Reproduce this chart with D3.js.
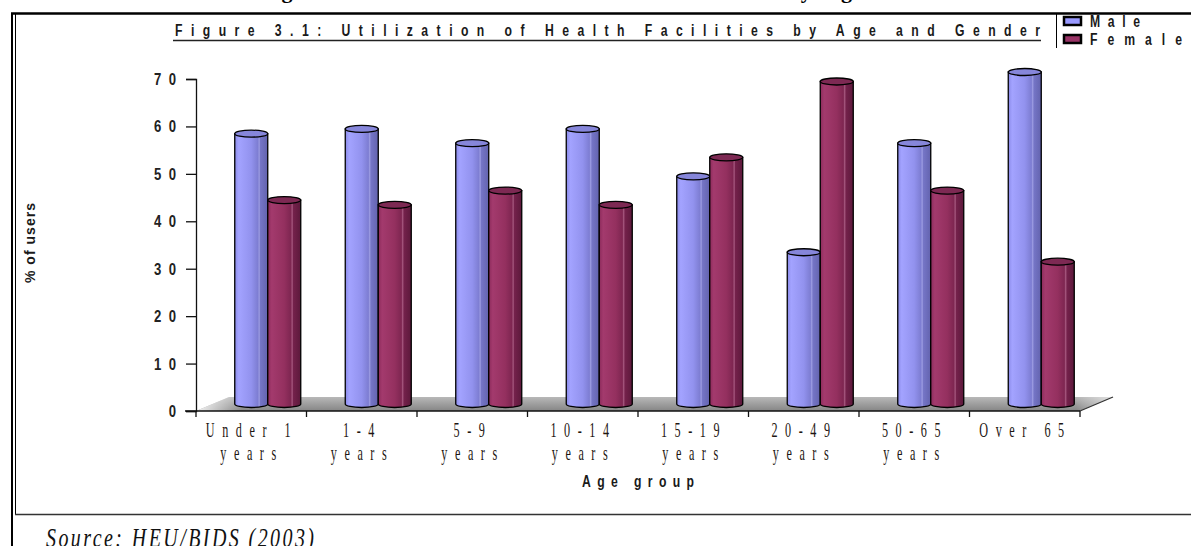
<!DOCTYPE html>
<html>
<head>
<meta charset="utf-8">
<script src="https://cdn.jsdelivr.net/npm/d3@7"></script>
<style>
  html, body { margin: 0; padding: 0; background: #fff; }
  svg { display: block; }
</style>
</head>
<body>
<svg id="chart" width="1191" height="546"></svg>
<script>
// ---- data ----
const categories = ["Under 1\nyears", "1-4\nyears", "5-9\nyears", "10-14\nyears",
                    "15-19\nyears", "20-49\nyears", "50-65\nyears", "Over 65"];
const series = ["Male", "Female"];
const maleValues = [57, 58, 55, 58, 48, 32, 55, 70];
const femaleValues = [43, 42, 45, 42, 52, 68, 45, 30];
const yTicks = [0, 10, 20, 30, 40, 50, 60, 70];
const titleText = "Figure 3.1: Utilization of Health Facilities by Age and Gender";
const xAxisTitle = "Age group";
const yAxisTitle = "% of users";
const sourceText = "Source: HEU/BIDS (2003)";

const svg = d3.select("#chart");
const defs = svg.append("defs");

// ---- layout ----
const plotLeft = 196, plotRight = 1080, yZero = 411, yTop = 79;
const depthDx = 33, depthDy = -14;          // oblique depth of the floor
const barW = 33, capRy = 3.5;

const x = d3.scaleBand().domain(categories).range([plotLeft, plotRight]);
const y = d3.scaleLinear().domain([0, 70]).range([yZero, yTop]);
const bw = x.bandwidth();
const sub = d3.scaleBand().domain(series)
  .range([bw / 2 + depthDx / 2 - barW, bw / 2 + depthDx / 2 + barW]);

const sans = "'Liberation Sans', Arial, sans-serif";
const serif = "'Liberation Serif', 'Times New Roman', serif";

// condensed / stretched text helper
function stext(parent, x0, y0, str, o) {
  const g = parent.append("g")
    .attr("transform", `translate(${x0},${y0}) scale(${o.sx || 1},${o.sy || 1})`);
  const t = g.append("text")
    .attr("font-family", o.family || sans)
    .attr("font-size", o.size)
    .attr("font-weight", o.weight || "normal")
    .attr("font-style", o.style || "normal")
    .attr("fill", o.fill || "#111")
    .attr("text-anchor", o.anchor || "start")
    .text(str);
  if (o.ls) {
    t.attr("letter-spacing", o.ls);
    if (o.anchor === "middle") t.attr("dx", o.ls / 2);
    if (o.anchor === "end") t.attr("dx", o.ls);
  }
  if (o.len) t.attr("textLength", o.len / (o.sx || 1)).attr("lengthAdjust", "spacing");
  return t;
}

// ---- page frame ----
const frame = svg.append("g").attr("stroke", "#000").attr("fill", "none");
frame.append("line").attr("x1", 11).attr("x2", 1191).attr("y1", 13.5).attr("y2", 13.5).attr("stroke-width", 2.5);
frame.append("line").attr("x1", 12).attr("x2", 12).attr("y1", 13).attr("y2", 546).attr("stroke-width", 2);
frame.append("line").attr("x1", 15.5).attr("x2", 15.5).attr("y1", 13).attr("y2", 515).attr("stroke-width", 1);
frame.append("line").attr("x1", 15).attr("x2", 1191).attr("y1", 514.5).attr("y2", 514.5).attr("stroke-width", 1.6).attr("stroke", "#333");

// heading of the document page above, mostly cut by the top edge
stext(svg, 256, -2, titleText, { family: serif, size: 22, weight: "bold", len: 759, fill: "#000" });

// ---- chart title (underlined) ----
stext(svg, 175, 36, titleText, { size: 16.5, weight: "bold", sx: 0.74, len: 865, fill: "#1a1a1a" });
svg.append("line").attr("x1", 173).attr("x2", 1041).attr("y1", 40.5).attr("y2", 40.5)
  .attr("stroke", "#222").attr("stroke-width", 1.5);

// ---- legend ----
const legend = svg.append("g");
legend.append("line").attr("x1", 1056.5).attr("x2", 1056.5).attr("y1", 13).attr("y2", 48)
  .attr("stroke", "#000").attr("stroke-width", 1);
const legendColors = { Male: "#9999ff", Female: "#993366" };
const legendRows = [{ name: "Male", cy: 21, len: 50 }, { name: "Female", cy: 39, len: 92 }];
legendRows.forEach(r => {
  legend.append("rect").attr("x", 1064).attr("y", r.cy - 4).attr("width", 17).attr("height", 8)
    .attr("fill", legendColors[r.name]).attr("stroke", "#000").attr("stroke-width", 2.5);
  stext(legend, 1090, r.cy + 5.5, r.name, { size: 16.5, weight: "bold", sx: 0.74, len: r.len, fill: "#1a1a1a" });
});

// ---- floor ----
const floorGrad = defs.append("linearGradient").attr("id", "floorGrad")
  .attr("x1", 0).attr("y1", 1).attr("x2", 0).attr("y2", 0);
floorGrad.append("stop").attr("offset", 0).attr("stop-color", "#858585");
floorGrad.append("stop").attr("offset", 1).attr("stop-color", "#b8b8b8");
const floorFade = defs.append("linearGradient").attr("id", "floorFade")
  .attr("x1", 0).attr("y1", 0).attr("x2", 1).attr("y2", 0);
floorFade.append("stop").attr("offset", 0).attr("stop-color", "#fff").attr("stop-opacity", 0.9);
floorFade.append("stop").attr("offset", 0.05).attr("stop-color", "#fff").attr("stop-opacity", 0);
floorFade.append("stop").attr("offset", 0.96).attr("stop-color", "#fff").attr("stop-opacity", 0);
floorFade.append("stop").attr("offset", 1).attr("stop-color", "#fff").attr("stop-opacity", 0.6);

const floorPts = [[plotLeft, yZero], [plotRight, yZero],
                  [plotRight + depthDx, yZero + depthDy], [plotLeft + depthDx, yZero + depthDy]];
const floorPath = "M" + floorPts.map(p => p.join(",")).join("L") + "Z";
svg.append("path").attr("d", floorPath).attr("fill", "url(#floorGrad)");
svg.append("path").attr("d", floorPath).attr("fill", "url(#floorFade)");
svg.append("line").attr("x1", plotRight).attr("y1", yZero)
  .attr("x2", plotRight + depthDx).attr("y2", yZero + depthDy)
  .attr("stroke", "#333").attr("stroke-width", 1.2);

// ---- cylinder gradients ----
function cylGrad(id, stops) {
  const g = defs.append("linearGradient").attr("id", id)
    .attr("x1", 0).attr("y1", 0).attr("x2", 1).attr("y2", 0);
  stops.forEach(([o, c]) => g.append("stop").attr("offset", o).attr("stop-color", c));
}
cylGrad("cylMale", [[0, "#8a8ae8"], [0.12, "#a3a3ff"], [0.5, "#9292ee"], [0.7, "#7d7dd2"],
                    [0.74, "#9c9ce2"], [0.78, "#7575c6"], [1, "#6363ae"]]);
cylGrad("cylFemale", [[0, "#8c2b5b"], [0.12, "#a33a6d"], [0.5, "#94305f"], [0.7, "#7e2651"],
                      [0.74, "#a6587f"], [0.78, "#74214b"], [1, "#5c193b"]]);
const topFill = { Male: "#8686da", Female: "#7d2953" };

// ---- bars ----
const rows = categories.map((c, i) => ({ cat: c, Male: maleValues[i], Female: femaleValues[i] }));
const barsG = svg.append("g");
rows.forEach(r => {
  series.forEach(s => {
    const left = x(r.cat) + sub(s);
    const right = left + sub.bandwidth();
    const cx = (left + right) / 2, rx = sub.bandwidth() / 2;
    const base = y(0) + depthDy / 2;
    const top = y(r[s]) + depthDy / 2;
    const g = barsG.append("g");
    g.append("path")
      .attr("d", `M${left},${top}L${left},${base}A${rx},${capRy} 0 0 0 ${right},${base}L${right},${top}Z`)
      .attr("fill", `url(#cyl${s})`).attr("stroke", "#000").attr("stroke-width", 1.3);
    g.append("ellipse").attr("cx", cx).attr("cy", top).attr("rx", rx).attr("ry", capRy)
      .attr("fill", topFill[s]).attr("stroke", "#000").attr("stroke-width", 1.3);
  });
});

// ---- axes ----
const yAxis = d3.axisLeft(y).tickValues(yTicks).tickSize(10).tickFormat("");
svg.append("g").attr("transform", `translate(${plotLeft},0)`).call(yAxis)
  .call(g => g.select(".domain").attr("stroke", "#111").attr("stroke-width", 1.3))
  .call(g => g.selectAll(".tick line").attr("stroke", "#111").attr("stroke-width", 1.3));
yTicks.forEach(t => {
  stext(svg, 176, y(t) + 6, d3.format("d")(t), { size: 16, weight: "bold", sx: 0.82, anchor: "end",
    ls: t >= 10 ? 9 : 0, fill: "#222" });
});

// category boundary ticks and floor front edge
const edges = d3.range(categories.length + 1).map(i => plotLeft + i * bw);
svg.append("g").selectAll("line").data(edges).join("line")
  .attr("x1", d => d).attr("x2", d => d).attr("y1", yZero).attr("y2", yZero + 6)
  .attr("stroke", "#111").attr("stroke-width", 1.3);
svg.append("line").attr("x1", plotLeft - 11).attr("x2", plotRight).attr("y1", yZero).attr("y2", yZero)
  .attr("stroke", "#111").attr("stroke-width", 1.5);

// category labels, two lines each
categories.forEach(c => {
  const cx = x(c) + bw / 2 - 3;
  c.split("\n").forEach((line, k) => {
    stext(svg, cx, 437 + k * 23, line, { family: serif, size: 21, sx: 0.58, anchor: "middle",
      ls: 13, fill: "#1e1612" });
  });
});

// axis titles
stext(svg, 638, 487, xAxisTitle, { size: 16.5, weight: "bold", sx: 0.74, anchor: "middle", len: 112, fill: "#1a1a1a" });
svg.append("g").attr("transform", "translate(35,243) rotate(-90)")
  .append("text").attr("text-anchor", "middle").attr("font-family", sans)
  .attr("font-size", 14).attr("font-weight", "bold").attr("fill", "#1a1a1a")
  .attr("textLength", 80).attr("lengthAdjust", "spacing").text(yAxisTitle);

// ---- source note (cut by the bottom edge) ----
stext(svg, 46, 547, sourceText, { family: serif, size: 20, style: "italic", sy: 1.35, len: 268, fill: "#111" });
</script>
</body>
</html>
